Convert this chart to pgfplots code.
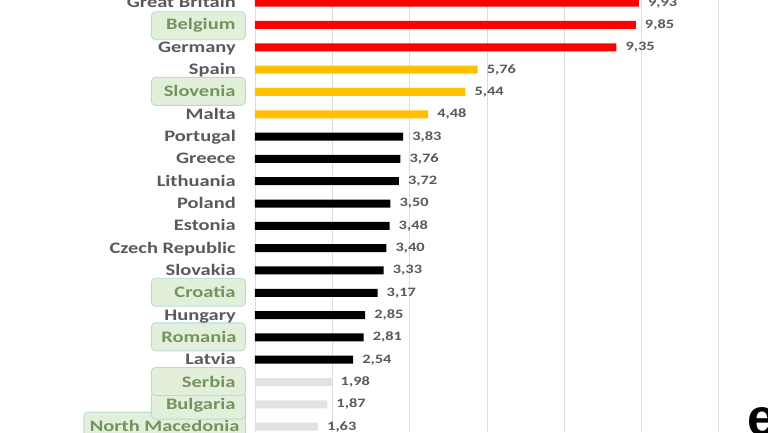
\documentclass[border=0pt]{standalone}
\usepackage{pgfplots}
\pgfplotsset{compat=1.18}
\usepackage{fontspec}
\setmainfont{Carlito}[FakeStretch=1.28]
\newfontfamily\logofont{Liberation Sans}
\definecolor{barred}{HTML}{FF0000}
\definecolor{baryel}{HTML}{FFC000}
\definecolor{bargray}{HTML}{E2E2E2}
\definecolor{labgray}{HTML}{595959}
\definecolor{boxfill}{HTML}{E2EFDA}
\definecolor{boxedge}{HTML}{B4DCD3}
\definecolor{boxtext}{HTML}{74935F}
\definecolor{gridgray}{HTML}{DCDCDC}
\newcommand\plab[1]{\textcolor{labgray}{#1}\hspace*{10pt}}
\newcommand\gbox[1]{\tikz[baseline=(n.base)]\node[anchor=center,fill=boxfill,draw=boxedge,line width=0.8pt,rounded corners=4pt,inner xsep=10pt,inner ysep=0pt,minimum height=28pt,text width=74pt,align=right,text=boxtext] (n) {#1};}
\newcommand\gboxn[1]{\tikz[baseline=(n.base)]\node[anchor=center,fill=boxfill,draw=boxedge,line width=0.8pt,rounded corners=4pt,inner xsep=6pt,inner ysep=0pt,minimum height=28pt,text=boxtext] (n) {#1};}
\begin{document}
\begin{tikzpicture}
\begin{axis}[
  scale only axis,
  width=513pt, height=432pt,
  xmin=0, xmax=13.27,
  ymin=-0.238, ymax=19.12,
  xbar, bar width=8pt,
  axis line style={draw=none},
  xtick={0,2,...,12}, xticklabels={},
  xmajorgrids, major grid style={gridgray, line width=0.9pt},
  major tick length=0pt,
  ytick={0,...,19},
  yticklabels={\gboxn{North Macedonia},\gbox{Bulgaria},\gbox{Serbia},\plab{Latvia},\gbox{Romania},\plab{Hungary},\gbox{Croatia},\plab{Slovakia},\plab{Czech Republic},\plab{Estonia},\plab{Poland},\plab{Lithuania},\plab{Greece},\plab{Portugal},\plab{Malta},\gbox{Slovenia},\plab{Spain},\plab{Germany},\gbox{Belgium},\plab{Great Britain}},
  yticklabel style={anchor=base east, inner sep=0pt, xshift=-9pt, yshift=-5pt, font=\fontsize{16}{18}\selectfont\bfseries},
  nodes near coords,
  nodes near coords style={anchor=west, inner sep=0pt, xshift=9pt, text=labgray, font=\fontsize{12.8}{15}\selectfont\bfseries,
    /pgf/number format/.cd, fixed, fixed zerofill, precision=2, use comma, assume math mode=true},
  clip=false,
]
\addplot[fill=barred, draw=none, bar shift=0pt] coordinates {(9.93,19) (9.85,18) (9.35,17)};
\addplot[fill=baryel, draw=none, bar shift=0pt] coordinates {(5.76,16) (5.44,15) (4.48,14)};
\addplot[fill=black, draw=none, bar shift=0pt] coordinates {(3.83,13) (3.76,12) (3.72,11) (3.50,10) (3.48,9) (3.40,8) (3.33,7) (3.17,6) (2.85,5) (2.81,4) (2.54,3)};
\addplot[fill=bargray, draw=none, bar shift=0pt] coordinates {(1.98,2) (1.87,1) (1.63,0)};
\end{axis}
\node[anchor=base west, inner sep=0pt, font=\logofont\fontsize{52}{52}\selectfont\bfseries] at (492pt,-3pt) {e};
\pgfresetboundingbox
\useasboundingbox (-255pt,0pt) rectangle (513pt,432pt);
\end{tikzpicture}
\end{document}
